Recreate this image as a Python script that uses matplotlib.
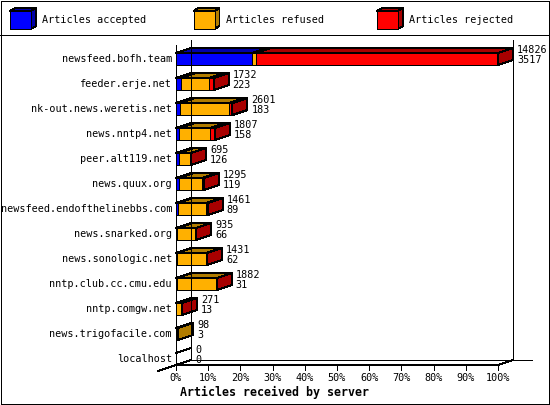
import matplotlib
matplotlib.use("Agg")
import matplotlib.pyplot as plt
from matplotlib.patches import Polygon, Rectangle

# data (articles per server)
hosts = ["newsfeed.bofh.team", "feeder.erje.net", "nk-out.news.weretis.net",
         "news.nntp4.net", "peer.alt119.net", "news.quux.org",
         "newsfeed.endofthelinebbs.com", "news.snarked.org", "news.sonologic.net",
         "nntp.club.cc.cmu.edu", "nntp.comgw.net", "news.trigofacile.com", "localhost"]
accepted = [3517, 223, 183, 158, 126, 119, 89, 66, 62, 31, 13, 3, 0]
refused = [150, 1279, 2278, 1419, 554, 1096, 1312, 859, 1319, 1843, 243, 95, 0]
rejected = [11159, 230, 140, 230, 15, 80, 60, 10, 50, 8, 15, 0, 0]
pct_ticks = list(range(0, 101, 10))

series = [("Articles accepted", accepted, "#0000ff", "#0000a8"),
          ("Articles refused", refused, "#ffb000", "#b07c00"),
          ("Articles rejected", rejected, "#ff0000", "#a80000")]

W, H = 550, 405
MONO = "DejaVu Sans Mono"
FS = 7.3
LW = 0.72   # one pixel

fig = plt.figure(figsize=(W / 100, H / 100), dpi=100)
fig.patch.set_facecolor("white")

# overlay in pixel units for border + legend
ov = fig.add_axes([0, 0, 1, 1])
ov.set_xlim(0, W)
ov.set_ylim(H, 0)
ov.axis("off")
ov.add_patch(Rectangle((0.5, 0.5), W - 1.5, H - 1.5, fill=False, ec="black", lw=LW, antialiased=False))
ov.plot([0, W], [35, 35], color="black", lw=LW, antialiased=False)

for k, (name, _, c, cd) in enumerate(series):
    x0 = 10 + k * 183.5
    ov.add_patch(Polygon([(x0, 11), (x0 + 21, 11), (x0 + 26, 8), (x0 + 5, 8)], fc=cd, ec="black", lw=LW, antialiased=False))
    ov.add_patch(Polygon([(x0 + 21, 11), (x0 + 26, 8), (x0 + 26, 26), (x0 + 21, 29)], fc=cd, ec="black", lw=LW, antialiased=False))
    ov.add_patch(Rectangle((x0, 11), 21, 18, fc=c, ec="black", lw=LW, antialiased=False))
    ov.text(x0 + 32, 20, name, family=MONO, size=FS, va="center", ha="left")

# main chart: x in percent of the busiest server, y in rows
ax = fig.add_axes([176 / W, (H - 365) / H, 322 / W, 325 / H])
ax.set_xlim(0, 100)
ax.set_ylim(12.24, -0.76)
ax.axis("off")

px = 322 / 100          # pixels per percent
dx = 15 / px            # 3d depth in x
dy = 5 / 25             # 3d depth in rows
hh = 6 / 25             # half bar height
floor = 12.24

totals = [a + r + j for a, r, j in zip(accepted, refused, rejected)]
top = max(totals)


def line(xs, ys):
    ax.plot(xs, ys, color="black", lw=LW, clip_on=False, antialiased=False)


# walls and floor
line([dx, dx], [-0.76, floor - dy])
line([100 + dx, 100 + dx], [-0.76, floor - dy])
line([0, 0], [-0.76 + dy, floor + 0.08])
line([dx, 110.6], [floor - dy, floor - dy])
line([0, 100, 100 + dx], [floor, floor, floor - dy])
line([-1.2 * dx, dx], [floor + 1.2 * dy, floor - dy])
for t in pct_ticks:
    line([t, t], [floor, floor + 0.2])
    ax.text(t, floor + 0.52, f"{t}%", family=MONO, size=FS, ha="center", va="center")
ax.text(4 / px, 13.32, "Articles received by server", family=MONO, size=8.4,
        weight="bold", ha="left", va="center")

for i, host in enumerate(hosts):
    ax.text(-4 / px, i, host, family=MONO, size=FS, ha="right", va="center")
    left = 0
    last = None
    for _, vals, c, cd in series:
        if vals[i] == 0:
            continue
        w = vals[i] / top * 100
        ax.add_patch(Polygon([(left, i - hh), (left + w, i - hh), (left + w, i + hh), (left, i + hh)],
                             fc=c, ec="black", lw=LW, clip_on=False, antialiased=False))
        ax.add_patch(Polygon([(left, i - hh), (left + w, i - hh), (left + w + dx, i - hh - dy), (left + dx, i - hh - dy)],
                             fc=cd, ec="black", lw=LW, clip_on=False, antialiased=False))
        left += w
        last = cd
    if last is not None:
        ax.add_patch(Polygon([(left, i - hh), (left + dx, i - hh - dy), (left + dx, i + hh - dy), (left, i + hh)],
                             fc=last, ec="black", lw=LW, clip_on=False, antialiased=False))
    else:
        line([0, dx], [i - hh, i - hh - dy])
    ax.text(left + dx + 4 / px, i - 0.34, str(totals[i]), family=MONO, size=FS, ha="left", va="center")
    ax.text(left + dx + 4 / px, i + 0.06, str(accepted[i]), family=MONO, size=FS, ha="left", va="center")

fig.savefig("out.png", dpi=100)
